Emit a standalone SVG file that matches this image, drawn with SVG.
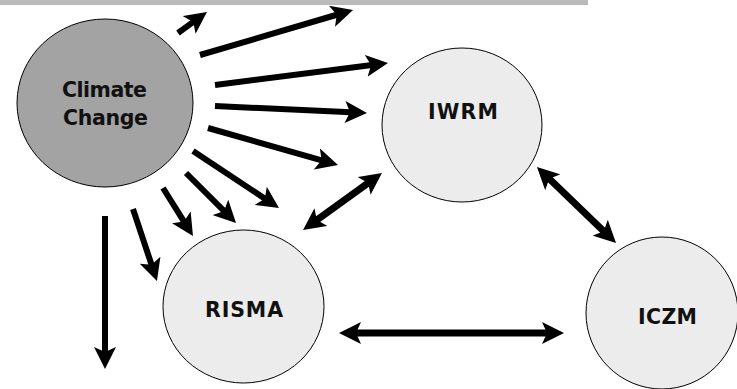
<svg xmlns="http://www.w3.org/2000/svg" width="737" height="389" viewBox="0 0 737 389">
<style>
.node{stroke:#000;stroke-width:1}
.lbl{font-family:"DejaVu Sans","Liberation Sans",sans-serif;font-weight:bold;font-size:20.5px;fill:#111}
.arr{stroke:#000;stroke-width:6;fill:none;marker-end:url(#head)}
.dbl{stroke:#000;stroke-width:7;fill:none;marker-end:url(#head);marker-start:url(#head)}
</style>
<defs>
<marker id="head" markerUnits="userSpaceOnUse" markerWidth="22" markerHeight="22" viewBox="0 0 22 22" refX="6" refY="11" orient="auto-start-reverse">
<path d="M0,0 L22,11 L0,22 L5,11 z" fill="#000"/>
</marker>
</defs>
<rect x="0" y="0" width="588" height="5" fill="#bbbbbb"/>
<g id="connectors">
<line class="arr" x1="178" y1="33" x2="194" y2="21.4"/>
<line class="arr" x1="200" y1="55" x2="337.7" y2="14.5"/>
<line class="arr" x1="215" y1="85" x2="372.1" y2="65"/>
<line class="arr" x1="215" y1="106" x2="351" y2="112.3"/>
<line class="arr" x1="208" y1="128" x2="322.6" y2="160.6"/>
<line class="arr" x1="193" y1="151" x2="265.7" y2="199.2"/>
<line class="arr" x1="186" y1="173" x2="224.7" y2="211.7"/>
<line class="arr" x1="163" y1="188" x2="184.5" y2="222.4"/>
<line class="arr" x1="133" y1="209" x2="151.9" y2="265.8"/>
<line class="arr" x1="105" y1="216" x2="105" y2="353"/>
<line class="dbl" x1="316" y1="220.6" x2="369" y2="182.4"/>
<line class="dbl" x1="548.5" y1="178.1" x2="604.5" y2="231.9"/>
<line class="dbl" x1="355" y1="333" x2="548" y2="333"/>
</g>
<g id="climate">
<ellipse class="node" cx="105" cy="103" rx="88" ry="84" fill="#a3a3a3"/>
<text class="lbl" x="62" y="97" textLength="85" lengthAdjust="spacing">Climate</text>
<text class="lbl" x="63" y="125" textLength="85" lengthAdjust="spacing">Change</text>
</g>
<g id="iwrm">
<ellipse class="node" cx="462" cy="125" rx="80" ry="77" fill="#ececec"/>
<text class="lbl" x="428" y="119" textLength="70" lengthAdjust="spacing">IWRM</text>
</g>
<g id="risma">
<ellipse class="node" cx="243.5" cy="306.5" rx="80.5" ry="76.5" fill="#ececec"/>
<text class="lbl" x="205" y="317" textLength="78" lengthAdjust="spacing">RISMA</text>
</g>
<g id="iczm">
<ellipse class="node" cx="662" cy="313" rx="76" ry="76" fill="#ececec"/>
<text class="lbl" x="638" y="324" textLength="59" lengthAdjust="spacing">ICZM</text>
</g>
</svg>
